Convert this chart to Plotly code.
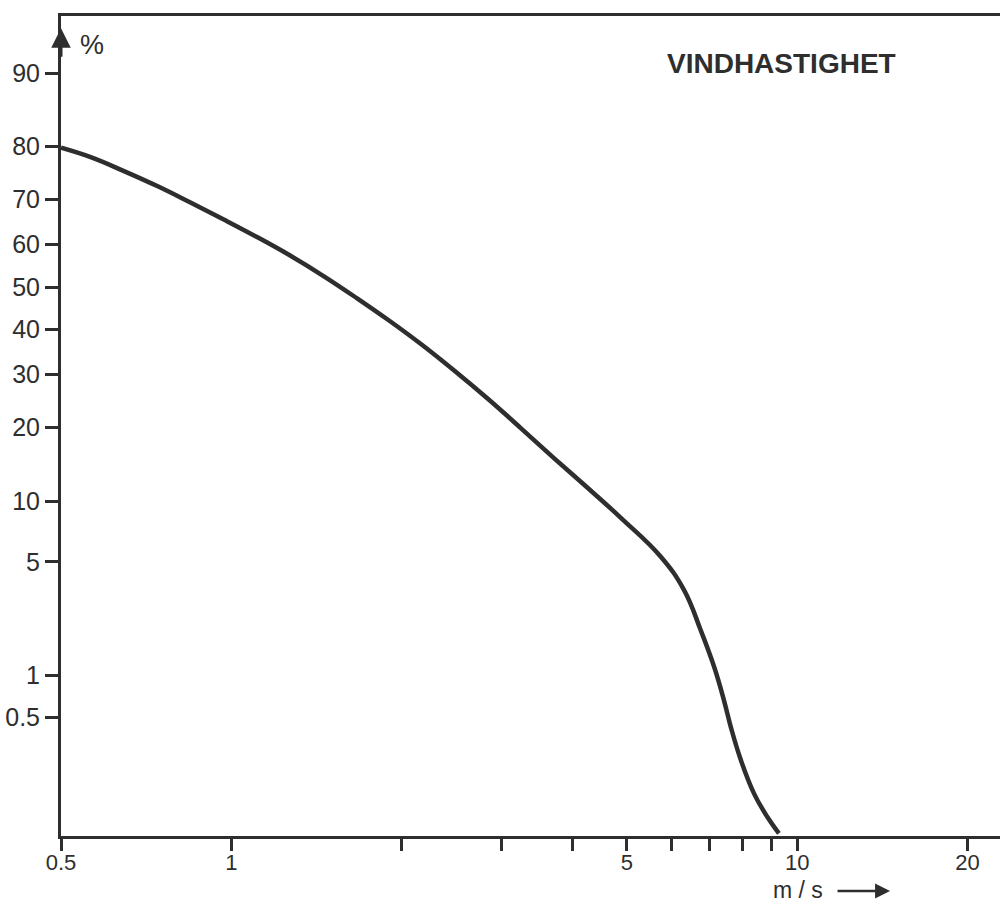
import plotly.graph_objects as go
from statistics import NormalDist

# ---- data ----
wind_speed = [0.5, 0.5642, 0.646, 0.7396, 0.8467, 0.9696, 1.1099, 1.2703, 1.4552,
              1.6655, 1.8942, 2.1683, 2.482, 2.8427, 3.2539, 3.724, 4.2648, 4.8834,
              5.74, 6.31, 6.75, 7.13, 7.42, 7.63, 7.95, 8.385, 8.85, 9.28]
exceed_pct = [79.8, 78.17, 75.63, 72.73, 69.36, 65.70, 61.77, 57.48, 52.63,
              47.37, 42.17, 36.53, 30.75, 25.12, 19.84, 15.22, 11.44, 8.33,
              5.32, 3.48, 2.0, 1.15, 0.67, 0.423, 0.231, 0.1215, 0.0757, 0.0536]

y_tick_pct = [90, 80, 70, 60, 50, 40, 30, 20, 10, 5, 1, 0.5]
y_tick_text = ["90", "80", "70", "60", "50", "40", "30", "20", "10", "5", "1", "0.5"]

x_tick_vals = [0.5, 1, 2, 3, 4, 5, 6, 7, 8, 9, 10, 20]
x_tick_text = ["0.5", "1", "", "", "", "5", "", "", "", "", "10", "20"]

title_text = "VINDHASTIGHET"
y_unit = "%"
x_unit = "m / s"

# probability (normal) scale for the y axis
nd = NormalDist()
def prob(p):
    return nd.inv_cdf(p / 100.0)

ink = "#2e2e2e"
font_family = "Liberation Sans, Arial, sans-serif"

fig = go.Figure()
fig.add_trace(go.Scatter(
    x=wind_speed, y=[prob(p) for p in exceed_pct],
    mode="lines", line=dict(color=ink, width=4.5, shape="spline", smoothing=1.2),
    hoverinfo="skip", showlegend=False))

fig.update_layout(
    width=1000, height=904,
    margin=dict(l=61, r=0, t=16, b=68),
    paper_bgcolor="white", plot_bgcolor="white",
    font=dict(family=font_family, size=22, color=ink),
    xaxis=dict(
        type="log", range=[-0.30103, 1.3583],
        tickvals=x_tick_vals, ticktext=x_tick_text,
        ticks="outside", ticklen=12, tickwidth=2.5, tickcolor=ink,
        ticklabelstandoff=-7,
        showline=True, linecolor=ink, linewidth=3, mirror=True,
        showgrid=False, zeroline=False, automargin=False,
        tickfont=dict(size=22, color=ink),
    ),
    yaxis=dict(
        range=[-3.287, 1.623],
        tickvals=[prob(p) for p in y_tick_pct], ticktext=y_tick_text,
        ticks="outside", ticklen=13, tickwidth=2.5, tickcolor=ink,
        showline=True, linecolor=ink, linewidth=3,
        showgrid=False, zeroline=False, automargin=False,
        tickfont=dict(size=25, color=ink),
    ),
)

annotations = [
    dict(text="<b>" + title_text + "</b>", xref="paper", yref="paper", x=0.6434, y=0.9415,
         xanchor="left", yanchor="middle", showarrow=False,
         font=dict(size=28, color=ink, family=font_family)),
    dict(text=y_unit, xref="paper", yref="paper", x=0.033, y=0.965,
         xanchor="center", yanchor="middle", showarrow=False,
         font=dict(size=27, color=ink, family=font_family)),
    dict(text=x_unit, xref="paper", yref="paper", x=0.785, y=-0.066,
         xanchor="center", yanchor="middle", showarrow=False,
         font=dict(size=23, color=ink, family=font_family)),
    # arrow after the x unit
    dict(text="", xref="paper", yref="paper", x=0.8829, y=-0.067,
         ax=-54, ay=0, showarrow=True, arrowhead=2, arrowsize=1.2,
         arrowwidth=2.5, arrowcolor=ink),
    # arrow head at the top of the y axis
    dict(text="", xref="paper", yref="paper", x=0.0, y=0.985,
         ax=0, ay=30, showarrow=True, arrowhead=2, arrowsize=1.3,
         arrowwidth=3, arrowcolor=ink),
]
fig.update_layout(annotations=annotations)

fig.write_html("out.html", config={"displayModeBar": False},
               post_script="document.body.style.margin='0';document.body.style.overflow='hidden';")
